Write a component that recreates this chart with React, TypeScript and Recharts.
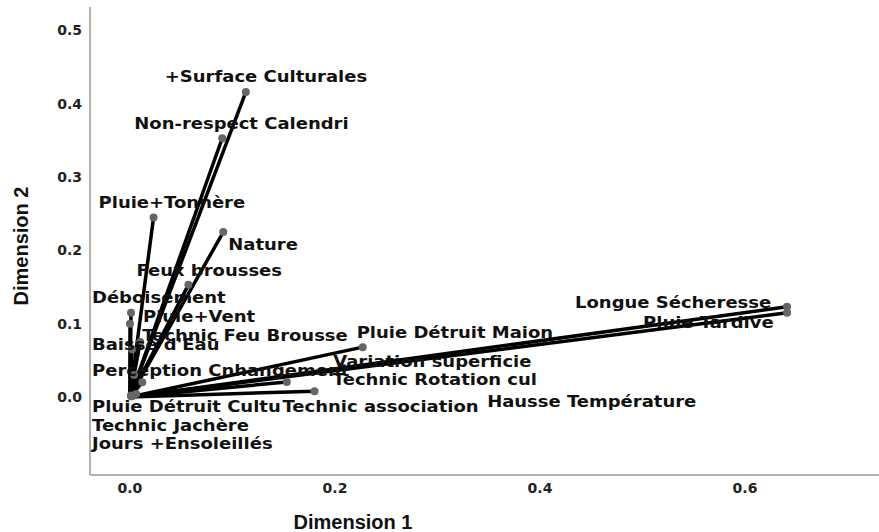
import React from 'react';
import { ScatterChart, Scatter, XAxis, YAxis, ReferenceLine, Label } from 'recharts';

const variables = [
  '+Surface Culturales',
  'Non-respect Calendri',
  'Pluie+Tonnère',
  'Nature',
  'Feux brousses',
  'Déboisement',
  'Pluie+Vent',
  'Technic Feu Brousse',
  "Baisse d'Eau",
  'Perception Cnhangement',
  'Pluie Détruit Maion',
  'Variation superficie',
  'Technic Rotation cul',
  'Technic association',
  'Hausse Température',
  'Pluie Détruit Cultu',
  'Technic Jachère',
  'Jours +Ensoleillés',
  'Longue Sécheresse',
  'Pluie Tardive',
];

const dimension1 = [
  0.113, 0.090, 0.023, 0.091, 0.057, 0.001, 0.000, 0.010, 0.002, 0.004,
  0.227, 0.012, 0.153, 0.180, 0.006, 0.002, 0.001, 0.001, 0.641, 0.641,
];

const dimension2 = [
  0.416, 0.353, 0.245, 0.225, 0.153, 0.115, 0.100, 0.075, 0.065, 0.030,
  0.068, 0.020, 0.0205, 0.008, 0.004, 0.001, 0.002, 0.001, 0.123, 0.115,
];

const xTicks = [0, 0.2, 0.4, 0.6];
const yTicks = [0, 0.1, 0.2, 0.3, 0.4, 0.5];

// label placement relative to each point (left edge, vertical centre), in px
const labelOffsets: Record<string, [number, number]> = {
  '+Surface Culturales': [-81, -15],
  'Non-respect Calendri': [-88, -14],
  'Pluie+Tonnère': [-55, -14],
  'Nature': [5, 13],
  'Feux brousses': [-52, -14],
  'Déboisement': [-39, -15],
  'Pluie+Vent': [13, -7],
  'Technic Feu Brousse': [2, -6],
  "Baisse d'Eau": [-40, -4],
  'Perception Cnhangement': [-42, -4],
  'Pluie Détruit Maion': [-6, -14],
  'Variation superficie': [191, -20],
  'Technic Rotation cul': [46, -2],
  'Technic association': [-32, 16],
  'Hausse Température': [351, 8],
  'Pluie Détruit Cultu': [-40, 11],
  'Technic Jachère': [-39, 30],
  'Jours +Ensoleillés': [-39, 48],
  'Longue Sécheresse': [-212, -4],
  'Pluie Tardive': [-144, 10],
};

const points = variables.map((name, i) => ({ name, x: dimension1[i], y: dimension2[i] }));

const PointShape = (props: any) => {
  const { cx, cy, payload } = props;
  const off = labelOffsets[payload.name] || [6, -6];
  return (
    <g>
      <circle cx={cx} cy={cy} r={4} fill="#666" />
      <text
        transform={`translate(${cx + off[0]},${cy + off[1]}) scale(1.2,1)`}
        dominantBaseline="central"
        fontFamily="DejaVu Sans"
        fontWeight="bold"
        fontSize={15}
        fill="#111"
      >
        {payload.name}
      </text>
    </g>
  );
};

const tickStyle = { fontSize: 14, fontWeight: 'bold', fill: '#222', fontFamily: 'DejaVu Sans' };

export default function App() {
  return (
    <div style={{ position: 'absolute', left: 0, top: 0, width: 879, height: 532, background: '#fff' }}>
      <ScatterChart width={879} height={532} margin={{ top: 7, right: 0, bottom: 0, left: 0 }}>
        <XAxis
          type="number"
          dataKey="x"
          domain={[-0.039, 0.7307]}
          allowDataOverflow
          ticks={xTicks}
          tickFormatter={(v: number) => v.toFixed(1)}
          tickLine={false}
          axisLine={{ stroke: '#999', strokeWidth: 1.5 }}
          tick={tickStyle}
          height={57}
        >
          <Label
            content={() => (
              <text x={353} y={522} textAnchor="middle" dominantBaseline="central"
                fontFamily="Liberation Sans" fontWeight="bold" fontSize={20} fill="#111">
                Dimension 1
              </text>
            )}
          />
        </XAxis>
        <YAxis
          type="number"
          dataKey="y"
          domain={[-0.1064, 0.532]}
          allowDataOverflow
          ticks={yTicks}
          tickFormatter={(v: number) => v.toFixed(1)}
          tickLine={false}
          axisLine={{ stroke: '#999', strokeWidth: 1.5 }}
          tick={tickStyle}
          width={90}
        >
          <Label
            content={() => (
              <text x={21} y={246} textAnchor="middle" dominantBaseline="central"
                transform="rotate(-90, 21, 246)"
                fontFamily="Liberation Sans" fontWeight="bold" fontSize={20} fill="#111">
                Dimension 2
              </text>
            )}
          />
        </YAxis>
        {points.map((p) => (
          <ReferenceLine
            key={p.name}
            segment={[{ x: 0, y: 0 }, { x: p.x, y: p.y }]}
            stroke="#000"
            strokeWidth={3.5}
            ifOverflow="visible"
          />
        ))}
        <Scatter data={points} shape={PointShape} isAnimationActive={false} />
      </ScatterChart>
    </div>
  );
}
